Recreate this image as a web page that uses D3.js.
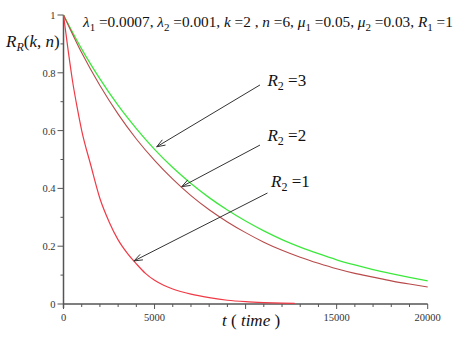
<!DOCTYPE html>
<html><head><meta charset="utf-8">
<script src="https://cdn.jsdelivr.net/npm/d3@7"></script>
<style>
body{margin:0;background:#fff;}
svg{display:block;}
svg text{font-family:"Liberation Serif", "DejaVu Serif", "Times New Roman", Times, serif;}
</style></head>
<body>
<script>
// ---- data ----
const tR1 = [0,250,500,750,1000,1500,2000,2500,3000,3500,4000,4500,5000,5500,6000,7000,8000,9000,10000,11000,12000,12700];
const vR1 = [1,0.88,0.77,0.68,0.60,0.48,0.365,0.285,0.222,0.176,0.139,0.106,0.082,0.065,0.052,0.034,0.022,0.013,0.008,0.005,0.003,0.002];
const tR = [0,1000,2000,3000,4000,5000,6000,7000,8000,9000,10000,11000,12000,13000,14000,15000,16000,17000,18000,19000,20000];
const vR2 = [1,0.869,0.756,0.657,0.571,0.497,0.432,0.375,0.326,0.284,0.247,0.214,0.186,0.162,0.141,0.122,0.106,0.093,0.080,0.069,0.059];
const vR3 = [1,0.882,0.779,0.687,0.607,0.535,0.472,0.417,0.368,0.325,0.287,0.253,0.223,0.197,0.174,0.153,0.135,0.119,0.105,0.092,0.080];
const xTicks = [0,5000,15000,20000];
const yTicks = [0,0.2,0.4,0.6,0.8,1];
const labels = ["R2=3","R2=2","R2=1"];
// annotation arrows in data units
const arrowFrom = [[10790,0.758],[10790,0.550],[11200,0.384]];
const arrowTo = [[5118,0.544],[6491,0.406],[3871,0.149]];
const labelAt = [[11200,0.755],[11200,0.565],[11400,0.405]];

const W=474,H=339;
const svg=d3.select("body").append("svg").attr("width",W).attr("height",H);
const x=d3.scaleLinear().domain([0,20000]).range([63.5,427.7]);
const y=d3.scaleLinear().domain([0,1]).range([304,15]);
const axisColor="#555";

const gx=svg.append("g");
gx.selectAll("line.minor").data(d3.range(0,20001,1000)).enter().append("line")
  .attr("x1",d=>x(d)).attr("x2",d=>x(d)).attr("y1",y(0)).attr("y2",d=>y(0)+(d%5000===0?5:3))
  .attr("stroke",axisColor).attr("stroke-width",1);
gx.selectAll("line.ymin").data(d3.range(0,11)).enter().append("line")
  .attr("y1",d=>y(d/10)).attr("y2",d=>y(d/10)).attr("x1",x(0)).attr("x2",d=>x(0)-(d%2===0?6:3))
  .attr("stroke",axisColor).attr("stroke-width",1);
svg.append("line").attr("x1",x(0)).attr("x2",x(20000)).attr("y1",y(0)).attr("y2",y(0)).attr("stroke",axisColor).attr("stroke-width",1.5);
svg.append("line").attr("x1",x(0)).attr("x2",x(0)).attr("y1",y(0)+4).attr("y2",y(1)).attr("stroke",axisColor).attr("stroke-width",1.5);
svg.selectAll("text.xt").data(xTicks).enter().append("text")
  .attr("x",d=>x(d)).attr("y",y(0)+17).attr("text-anchor","middle")
  .attr("font-size",10.5).attr("fill","#333").text(d=>d);
svg.selectAll("text.yt").data(yTicks).enter().append("text")
  .attr("x",x(0)-8).attr("y",d=>y(d)+4).attr("text-anchor","end")
  .attr("font-size",10.5).attr("fill","#333").text(d=>d);

const line=d3.line().x(d=>x(d[0])).y(d=>y(d[1])).curve(d3.curveMonotoneX);
svg.append("path").datum(tR.map((t,i)=>[t,vR3[i]])).attr("d",line).attr("fill","none").attr("stroke","#3de83d").attr("stroke-width",1.3);
svg.append("path").datum(tR.map((t,i)=>[t,vR2[i]])).attr("d",line).attr("fill","none").attr("stroke","#b84a4a").attr("stroke-width",1.1);
svg.append("path").datum(tR1.map((t,i)=>[t,vR1[i]])).attr("d",line).attr("fill","none").attr("stroke","#f03a46").attr("stroke-width",1.2);

arrowFrom.forEach((f,i)=>{
  const x1=x(f[0]),y1=y(f[1]),x2=x(arrowTo[i][0]),y2=y(arrowTo[i][1]);
  svg.append("line").attr("x1",x1).attr("y1",y1).attr("x2",x2).attr("y2",y2).attr("stroke","#333").attr("stroke-width",1);
  const a=Math.atan2(y1-y2,x1-x2), L=9, s=0.35;
  const p=[[x2+L*Math.cos(a+s),y2+L*Math.sin(a+s)],[x2,y2],[x2+L*Math.cos(a-s),y2+L*Math.sin(a-s)]];
  svg.append("path").attr("d",d3.line()(p)).attr("fill","none").attr("stroke","#333").attr("stroke-width",1);
});
labels.forEach((l,i)=>{
  const t=svg.append("text").attr("x",x(labelAt[i][0])).attr("y",y(labelAt[i][1])).attr("font-size",17).attr("fill","#111");
  t.append("tspan").attr("font-style","italic").text("R");
  t.append("tspan").attr("font-size",12).attr("dy",4).text("2");
  t.append("tspan").attr("dy",-4).text(" ="+l.split("=")[1]);
});

const yl=svg.append("text").attr("x",6).attr("y",47).attr("font-size",17).attr("fill","#111");
yl.append("tspan").attr("font-style","italic").text("R");
yl.append("tspan").attr("font-style","italic").attr("font-size",12).attr("dy",4).text("R");
yl.append("tspan").attr("dy",-4).text("(");
yl.append("tspan").attr("font-style","italic").text("k");
yl.append("tspan").text(", ");
yl.append("tspan").attr("font-style","italic").text("n");
yl.append("tspan").text(")");

const xl=svg.append("text").attr("x",222).attr("y",326).attr("font-size",17).attr("fill","#111");
xl.append("tspan").attr("font-style","italic").text("t");
xl.append("tspan").text(" ( ");
xl.append("tspan").attr("font-style","italic").text("time");
xl.append("tspan").text("    )");

const params=[["λ","1","=0.0007, "],["λ","2","=0.001, "],["k","","=2 , "],["n","","=6, "],["μ","1","=0.05, "],["μ","2","=0.03, "],["R","1","=1"]];
const tt=svg.append("text").attr("x",83).attr("y",27).attr("font-size",15.3).attr("fill","#111");
params.forEach(p=>{
  tt.append("tspan").attr("font-style","italic").text(p[0]);
  if(p[1]){tt.append("tspan").attr("font-size",11).attr("dy",4).text(p[1]);tt.append("tspan").attr("dy",-4).text(" "+p[2]);}
  else tt.append("tspan").text(" "+p[2]);
});
</script>
</body></html>
